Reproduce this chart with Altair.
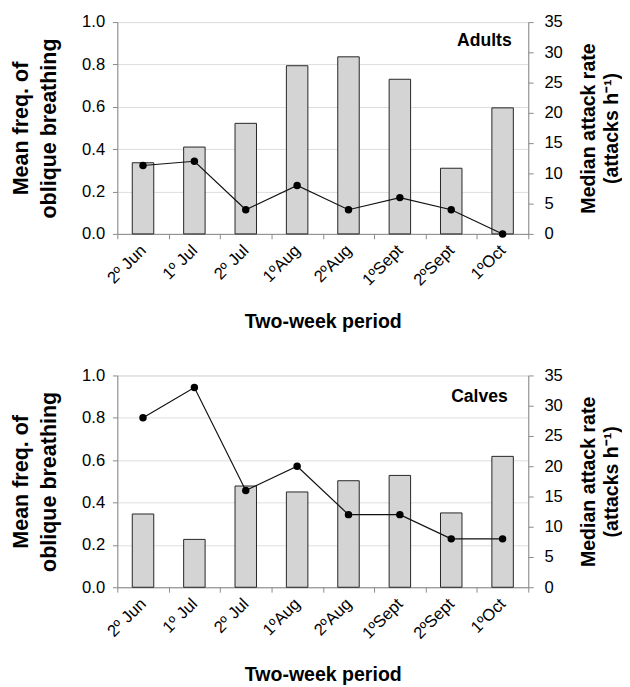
import altair as alt
import pandas as pd

periods = ["2º Jun", "1º Jul", "2º Jul", "1ºAug", "2ºAug", "1ºSept", "2ºSept", "1ºOct"]
adults_freq = [0.336, 0.41, 0.522, 0.794, 0.836, 0.73, 0.31, 0.595]
adults_attack = [11.3, 12, 4, 8, 4, 6, 4, 0]
calves_freq = [0.346, 0.226, 0.478, 0.45, 0.503, 0.528, 0.351, 0.618]
calves_attack = [28, 33, 16, 20, 12, 12, 8, 8]

FONT = "Liberation Sans"
AX_COLOR = "#8a8a8a"


def panel(label, freq, attack, lx, ly):
    df = pd.DataFrame({"period": periods, "freq": freq, "attack": attack})
    x = alt.X(
        "period:N",
        sort=periods,
        scale=alt.Scale(paddingInner=0, paddingOuter=0),
        axis=alt.Axis(
            title="Two-week period",
            labelAngle=-45,
            labelAlign="right",
            labelBaseline="middle",
            tickBand="extent",
            labelFontSize=17,
            titleFontSize=20,
            titleFontWeight="bold",
            titlePadding=24,
            labelPadding=9,
            tickSize=5,
        ),
    )
    bars = alt.Chart(df).mark_bar(size=22, color="#d4d4d4", stroke="#222222", strokeWidth=1).encode(
        x=x,
        y=alt.Y(
            "freq:Q",
            scale=alt.Scale(domain=[0, 1]),
            axis=alt.Axis(
                title=["Mean freq. of", "oblique breathing"],
                values=[0, 0.2, 0.4, 0.6, 0.8, 1.0],
                format=".1f",
                labelFontSize=17,
                titleFontSize=22,
                titleLineHeight=28,
                titleFontWeight="bold",
                titlePadding=22,
                tickSize=5,
                labelPadding=8,
            ),
        ),
    )
    line = alt.Chart(df).mark_line(
        color="#111111",
        strokeWidth=1.2,
        point=alt.OverlayMarkDef(filled=True, size=58, color="black", opacity=1),
    ).encode(
        x=alt.X("period:N", sort=periods),
        y=alt.Y(
            "attack:Q",
            scale=alt.Scale(domain=[0, 35]),
            axis=alt.Axis(
                orient="right",
                title=["Median attack rate", "(attacks h⁻¹)"],
                values=[0, 5, 10, 15, 20, 25, 30, 35],
                titleAngle=270,
                labelFontSize=17,
                titleFontSize=20,
                titleLineHeight=23,
                titleFontWeight="bold",
                titlePadding=14,
                tickSize=5,
                labelPadding=11,
            ),
        ),
    )
    txt = alt.Chart(pd.DataFrame({"t": [label]})).mark_text(
        font=FONT, fontSize=18, fontWeight="bold", align="right", baseline="middle"
    ).encode(text="t:N", x=alt.value(lx), y=alt.value(ly))
    return (
        alt.layer(bars, line, txt)
        .resolve_scale(y="independent")
        .properties(width=421, height=217)
    )


chart = (
    alt.vconcat(
        panel("Adults", adults_freq, adults_attack, 404, 19),
        panel("Calves", calves_freq, calves_attack, 400, 22),
        spacing=35,
    )
    .configure_view(stroke=None)
    .configure_axis(
        domainColor=AX_COLOR,
        tickColor=AX_COLOR,
        labelColor="#222222",
        titleColor="#111111",
        labelFont=FONT,
        titleFont=FONT,
        grid=False,
        labelFontWeight="normal",
    )
    .properties(padding={"left": 1, "top": -4, "right": 0, "bottom": 5})
    .configure(background="white")
)

chart.save("out.html", embed_options={"renderer": "svg", "actions": False})
